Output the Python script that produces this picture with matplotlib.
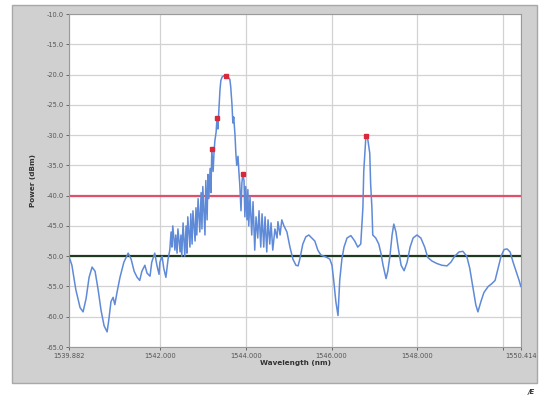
import matplotlib
matplotlib.use("Agg")
import matplotlib.pyplot as plt
from matplotlib.patches import Rectangle

# Spectrum trace (wavelength nm, power dBm)
wavelength = [
    1539.88, 1539.95, 1540.04, 1540.14, 1540.21, 1540.28, 1540.35, 1540.42, 1540.49, 1540.56,
    1540.63, 1540.70, 1540.77, 1540.81, 1540.86, 1540.91, 1540.95, 1541.00, 1541.07, 1541.16,
    1541.26, 1541.33, 1541.40, 1541.47, 1541.53, 1541.58, 1541.65, 1541.70, 1541.77, 1541.81,
    1541.88, 1541.93, 1541.98, 1542.00, 1542.05, 1542.09, 1542.14, 1542.19, 1542.23, 1542.26,
    1542.28, 1542.30, 1542.35, 1542.37, 1542.40, 1542.42, 1542.47, 1542.49, 1542.51, 1542.54,
    1542.58, 1542.61, 1542.63, 1542.65, 1542.70, 1542.72, 1542.75, 1542.77, 1542.82, 1542.84,
    1542.86, 1542.89, 1542.93, 1542.96, 1542.98, 1543.00, 1543.05, 1543.07, 1543.10, 1543.12,
    1543.14, 1543.17, 1543.19, 1543.21, 1543.24, 1543.26, 1543.28, 1543.31, 1543.33, 1543.35,
    1543.38, 1543.40, 1543.42, 1543.45, 1543.49, 1543.54, 1543.58, 1543.63, 1543.65, 1543.68,
    1543.70, 1543.72, 1543.75, 1543.77, 1543.79, 1543.82, 1543.84, 1543.86, 1543.89, 1543.91,
    1543.93, 1543.96, 1543.98, 1544.00, 1544.03, 1544.05, 1544.07, 1544.10, 1544.14, 1544.17,
    1544.21, 1544.24, 1544.28, 1544.31, 1544.35, 1544.38, 1544.42, 1544.45, 1544.49, 1544.52,
    1544.56, 1544.59, 1544.63, 1544.68, 1544.73, 1544.75, 1544.80, 1544.84, 1544.89, 1544.96,
    1545.03, 1545.10, 1545.17, 1545.22, 1545.26, 1545.33, 1545.40, 1545.47, 1545.54, 1545.61,
    1545.68, 1545.75, 1545.82, 1545.89, 1545.96, 1546.01, 1546.05, 1546.10, 1546.15, 1546.19,
    1546.24, 1546.29, 1546.36, 1546.45, 1546.54, 1546.61, 1546.68, 1546.73, 1546.75, 1546.80,
    1546.84, 1546.89, 1546.91, 1546.94, 1546.96, 1547.03, 1547.10, 1547.15, 1547.20, 1547.27,
    1547.31, 1547.36, 1547.41, 1547.45, 1547.50, 1547.55, 1547.62, 1547.69, 1547.76, 1547.83,
    1547.90, 1547.99, 1548.08, 1548.17, 1548.24, 1548.34, 1548.45, 1548.57, 1548.69, 1548.78,
    1548.87, 1548.97, 1549.06, 1549.15, 1549.22, 1549.29, 1549.36, 1549.41, 1549.48, 1549.55,
    1549.65, 1549.74, 1549.81, 1549.88, 1549.95, 1550.02, 1550.09, 1550.16, 1550.23, 1550.30,
    1550.37, 1550.41,
]
power = [
    -50.0, -51.5, -55.5, -58.5, -59.2, -57.0, -53.5, -51.8, -52.5, -55.5,
    -59.0, -61.5, -62.5, -60.5, -57.5, -56.8, -58.0, -56.0, -53.5, -51.0,
    -49.5, -50.5, -52.5, -53.5, -54.0, -52.5, -51.5, -52.8, -53.3, -51.0,
    -49.5, -51.5, -53.0, -51.0, -50.0, -52.0, -53.5, -50.5, -49.0, -46.0,
    -48.5, -45.0, -49.0, -46.5, -49.5, -45.5, -49.3, -46.5, -50.0, -44.5,
    -50.0, -45.0, -49.5, -43.5, -48.5, -43.0, -48.0, -42.5, -47.5, -42.0,
    -46.5, -40.5, -46.0, -39.5, -45.5, -38.5, -46.5, -37.5, -44.0, -36.5,
    -40.5, -35.5, -39.5, -32.3, -36.0, -33.0, -31.0, -29.5, -27.2, -29.0,
    -25.0, -22.5, -21.0, -20.4, -20.2, -20.2, -20.3, -20.8, -22.0, -25.0,
    -28.0, -27.0, -30.0, -33.0, -35.0, -33.5, -36.0, -38.0, -42.5, -38.0,
    -36.5, -37.5, -43.5, -38.5, -44.0, -39.0, -45.0, -40.2, -46.5, -41.0,
    -49.0, -43.5, -47.0, -42.5, -48.5, -43.0, -48.5, -43.5, -49.3, -44.0,
    -48.0, -44.5, -49.0, -45.5, -47.0, -44.3, -46.5, -44.0, -45.0, -46.0,
    -48.5, -50.5, -51.5, -51.6, -50.5, -48.0, -46.8, -46.5, -47.0, -47.5,
    -49.0, -49.8, -50.0, -50.2, -50.5, -51.5, -54.0, -57.5, -59.8, -54.0,
    -50.5, -48.5, -47.0, -46.6, -47.5, -48.5, -48.0, -42.0, -36.0, -30.2,
    -30.5, -33.0, -38.0, -42.0, -46.5, -47.0, -48.0, -49.5, -51.5, -53.7,
    -52.5, -50.0, -46.5, -44.7, -46.0, -48.5, -51.5, -52.4, -51.0, -48.5,
    -47.0, -46.5, -47.0, -48.5, -50.2, -50.8, -51.2, -51.5, -51.6, -51.0,
    -50.0, -49.3, -49.2, -50.0, -52.0, -55.0, -58.0, -59.2, -57.5, -56.0,
    -55.0, -54.5, -54.0, -52.0, -50.0, -48.9, -48.8, -49.3, -51.0, -52.5,
    -54.0, -55.0,
]

# Marked peaks
marker_wl = [1543.21, 1543.33, 1543.54, 1543.93, 1546.80]
marker_pw = [-32.3, -27.2, -20.2, -36.5, -30.2]

# Threshold lines
red_level = -40.0
green_level = -50.0

x_min, x_max = 1539.882, 1550.414
y_min, y_max = -65.0, -10.0
x_ticks = [1539.882, 1542.0, 1544.0, 1546.0, 1548.0, 1550.0, 1550.414]
x_tick_labels = ["1539.882", "1542.000", "1544.000", "1546.000", "1548.000", "", "1550.414"]
y_ticks = [-65, -60, -55, -50, -45, -40, -35, -30, -25, -20, -15, -10]
y_tick_labels = ["-65.0", "-60.0", "-55.0", "-50.0", "-45.0", "-40.0", "-35.0",
                 "-30.0", "-25.0", "-20.0", "-15.0", "-10.0"]

W, H = 542, 396
fig = plt.figure(figsize=(W / 100, H / 100), dpi=100)
fig.patch.set_facecolor("white")

# Grey instrument panel
fig.add_artist(Rectangle((12 / W, 1 - 383 / H), (537 - 12) / W, (383 - 5) / H,
                         transform=fig.transFigure, facecolor="#d0d0d0",
                         edgecolor="#a8a8a8", linewidth=1.0, zorder=0))

ax = fig.add_axes([69 / W, 1 - 347 / H, (521 - 69) / W, (347 - 14) / H])
ax.set_facecolor("white")
ax.set_xlim(x_min, x_max)
ax.set_ylim(y_min, y_max)

ax.set_xticks(x_ticks)
ax.set_xticklabels(x_tick_labels)
ax.set_yticks(y_ticks)
ax.set_yticklabels(y_tick_labels)
ax.tick_params(axis="both", labelsize=4.8, colors="#555555", length=2.5, width=0.6,
               direction="out", pad=1.5)
ax.grid(True, color="#d2d2d2", linewidth=0.9)
ax.set_axisbelow(True)
for s in ax.spines.values():
    s.set_color("#9a9a9a")
    s.set_linewidth(0.8)

ax.axhline(red_level, color="#e0506a", linewidth=1.6, zorder=2)
ax.axhline(green_level, color="#1f3a1f", linewidth=1.6, zorder=2)

ax.plot(wavelength, power, color="#5f8ad8", linewidth=1.1, zorder=3)
ax.plot(marker_wl, marker_pw, linestyle="none", marker="s", markersize=2.8,
        color="#d8283c", zorder=4)

ax.set_xlabel("Wavelength (nm)", fontsize=5.2, fontweight="bold", color="#333333", labelpad=1)
ax.set_ylabel("Power (dBm)", fontsize=5.2, fontweight="bold", color="#333333", labelpad=7)

fig.text(528 / W, 1 - 392 / H, "/E", fontsize=5, fontweight="bold", style="italic",
         color="#333333", ha="left", va="center")

fig.savefig("out.png", dpi=100)
